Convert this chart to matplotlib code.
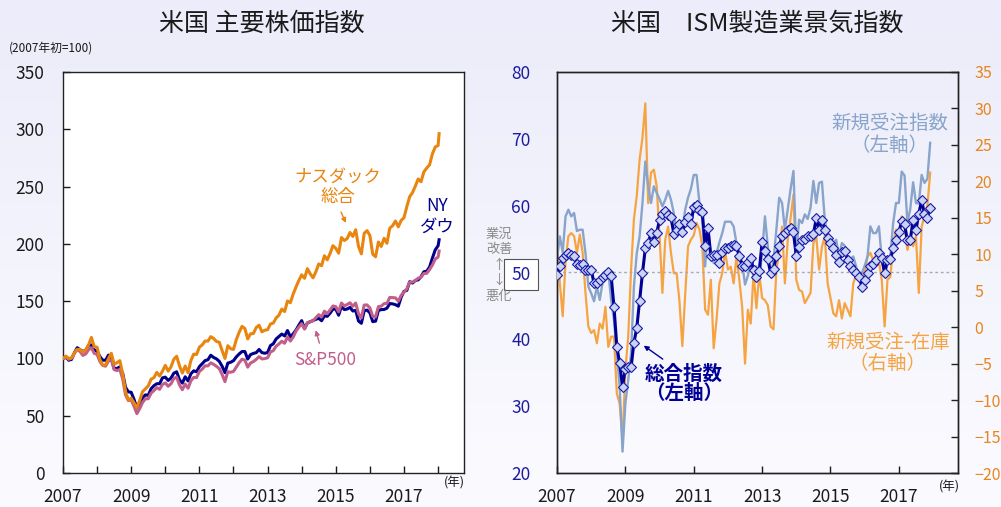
import numpy as np
import matplotlib
matplotlib.use("Agg")
import matplotlib.pyplot as plt
from matplotlib.colors import LinearSegmentedColormap

plt.rcParams['font.family'] = ['Noto Sans CJK JP', 'DejaVu Sans']

# ---------------- Data: US stock indices (monthly closes, Jan 2007 - Dec 2017, + early Jan 2018)
sp500_base = 1418.3
dow_base = 12463.2
nasdaq_base = 2415.3
sp500 = [1438.2, 1406.8, 1420.9, 1482.4, 1530.6, 1503.4, 1455.3, 1474.0, 1526.8, 1549.4, 1481.1, 1468.4,
         1378.6, 1330.6, 1322.7, 1385.6, 1400.4, 1280.0, 1267.4, 1282.8, 1166.4, 968.8, 896.2, 903.3,
         825.9, 735.1, 797.9, 872.8, 919.1, 919.3, 987.5, 1020.6, 1057.1, 1036.2, 1095.6, 1115.1,
         1073.9, 1104.5, 1169.4, 1186.7, 1089.4, 1030.7, 1101.6, 1049.3, 1141.2, 1183.3, 1180.6, 1257.6,
         1286.1, 1327.2, 1325.8, 1363.6, 1345.2, 1320.6, 1292.3, 1218.9, 1131.4, 1253.3, 1247.0, 1257.6,
         1312.4, 1365.7, 1408.5, 1397.9, 1310.3, 1362.2, 1379.3, 1406.6, 1440.7, 1412.2, 1416.2, 1426.2,
         1498.1, 1514.7, 1569.2, 1597.6, 1630.7, 1606.3, 1685.7, 1633.0, 1681.6, 1756.5, 1805.8, 1848.4,
         1782.6, 1859.5, 1872.3, 1883.9, 1923.6, 1960.2, 1930.7, 2003.4, 1972.3, 2018.1, 2067.6, 2058.9,
         1995.0, 2104.5, 2067.9, 2085.5, 2107.4, 2063.1, 2103.8, 1972.2, 1920.0, 2079.4, 2080.4, 2043.9,
         1940.2, 1932.2, 2059.7, 2065.3, 2097.0, 2098.9, 2173.6, 2171.0, 2168.3, 2126.2, 2198.8, 2238.8,
         2278.9, 2363.6, 2362.7, 2384.2, 2411.8, 2423.4, 2470.3, 2471.7, 2519.4, 2575.3, 2647.6, 2673.6,
         2748.0]
dow = [12622, 12268, 12354, 13063, 13628, 13409, 13212, 13358, 13896, 13930, 13372, 13265,
       12650, 12266, 12263, 12820, 12638, 11350, 11378, 11544, 10851, 9325, 8829, 8776,
       8001, 7063, 7609, 8168, 8500, 8447, 9172, 9496, 9712, 9713, 10345, 10428,
       10067, 10325, 10857, 11009, 10137, 9774, 10466, 10015, 10788, 11118, 11006, 11578,
       11892, 12226, 12320, 12811, 12570, 12414, 12143, 11614, 10913, 11955, 12046, 12218,
       12633, 12952, 13212, 13214, 12393, 12880, 13009, 13091, 13437, 13096, 13026, 13104,
       13861, 14054, 14579, 14840, 15116, 14910, 15500, 14810, 15130, 15546, 16086, 16577,
       15699, 16322, 16458, 16581, 16717, 16827, 16563, 17098, 17043, 17391, 17828, 17823,
       17165, 18133, 17776, 17841, 18011, 17620, 17690, 16528, 16285, 17664, 17720, 17425,
       16466, 16517, 17685, 17774, 17787, 17930, 18432, 18401, 18308, 18142, 19124, 19763,
       19864, 20812, 20663, 20941, 21009, 21350, 21891, 21948, 22405, 23377, 24272, 24719,
       25370]
nasdaq = [2464, 2416, 2422, 2525, 2605, 2603, 2546, 2596, 2701, 2859, 2661, 2652,
          2389, 2271, 2279, 2413, 2523, 2293, 2326, 2368, 2092, 1721, 1536, 1577,
          1476, 1378, 1529, 1717, 1774, 1835, 1979, 2009, 2122, 2045, 2145, 2269,
          2147, 2238, 2398, 2461, 2257, 2109, 2255, 2114, 2369, 2507, 2498, 2653,
          2700, 2782, 2781, 2874, 2835, 2774, 2756, 2579, 2415, 2684, 2620, 2605,
          2814, 2967, 3092, 3046, 2827, 2935, 2940, 3067, 3116, 2977, 3010, 3020,
          3142, 3160, 3268, 3329, 3456, 3403, 3626, 3590, 3771, 3920, 4060, 4177,
          4104, 4308, 4199, 4115, 4243, 4408, 4370, 4580, 4493, 4631, 4792, 4736,
          4635, 4964, 4901, 4941, 5070, 4987, 5128, 4777, 4620, 5054, 5109, 5007,
          4614, 4558, 4870, 4775, 4948, 4843, 5162, 5213, 5312, 5189, 5324, 5383,
          5615, 5825, 5912, 6048, 6199, 6140, 6348, 6429, 6496, 6728, 6874, 6903,
          7154]

# ---------------- Data: ISM manufacturing (monthly, Jan 2007 - Dec 2017)
pmi = [49.6, 50.9, 52.2, 52.6, 52.9, 52.6, 52.4, 51.2, 51.1, 51.2, 50.4, 50.4,
       50.4, 48.4, 48.4, 48.9, 49.4, 49.6, 50.0, 49.5, 44.9, 38.9, 36.4, 32.9,
       35.6, 35.8, 35.8, 39.5, 41.7, 45.8, 49.9, 53.6, 54.4, 55.9, 54.6, 55.9,
       57.9, 58.8, 59.2, 58.6, 58.3, 55.8, 56.3, 57.3, 56.0, 57.5, 58.3, 57.3,
       59.8, 60.1, 59.4, 59.0, 53.9, 56.6, 52.4, 52.6, 52.6, 51.4, 53.1, 53.7,
       53.7, 53.9, 54.1, 53.9, 52.4, 51.0, 50.9, 51.5, 52.2, 50.4, 49.4, 50.2,
       54.6, 53.2, 52.0, 49.9, 50.5, 52.4, 53.9, 55.4, 55.9, 56.4, 56.6, 56.0,
       52.4, 53.8, 54.9, 55.0, 55.4, 55.5, 55.7, 58.1, 56.4, 57.9, 56.4, 55.1,
       54.4, 53.6, 52.6, 51.6, 53.1, 53.2, 51.9, 50.9, 50.3, 49.9, 49.4, 47.9,
       48.9, 49.9, 50.9, 51.3, 51.9, 52.9, 52.2, 49.9, 51.9, 52.0, 53.6, 54.9,
       56.0, 57.7, 57.2, 54.8, 54.9, 57.8, 56.3, 58.8, 60.8, 58.7, 58.2, 59.7]
new_orders = [52.0, 55.4, 53.0, 58.4, 59.4, 58.4, 58.9, 56.2, 56.4, 56.4, 52.9, 47.9,
              46.9, 45.7, 47.9, 45.9, 48.5, 49.9, 50.2, 45.9, 42.9, 37.9, 32.9, 23.2,
              30.4, 33.9, 37.9, 47.9, 52.9, 55.4, 60.4, 66.6, 62.9, 60.4, 62.9, 61.9,
              61.0, 59.9, 60.9, 62.2, 60.9, 58.9, 55.4, 56.4, 56.4, 59.4, 61.2, 62.5,
              64.6, 64.6, 60.4, 57.9, 50.9, 56.9, 52.9, 51.4, 52.9, 54.5, 55.9, 57.6,
              57.6, 57.6, 56.9, 54.4, 53.2, 51.4, 48.2, 49.5, 51.4, 49.4, 50.9, 48.9,
              53.0, 58.4, 53.9, 49.4, 51.9, 56.4, 61.2, 60.4, 56.4, 59.4, 62.5, 65.2,
              52.9, 57.9, 57.4, 58.7, 58.0, 59.7, 63.7, 60.4, 63.4, 63.6, 57.9, 55.4,
              55.0, 54.4, 54.9, 52.4, 54.4, 54.0, 51.9, 52.0, 52.4, 50.9, 49.4, 49.9,
              51.0, 52.4, 56.9, 55.9, 55.9, 56.9, 52.0, 49.4, 51.4, 52.4, 57.4, 60.4,
              60.4, 65.1, 64.5, 57.5, 59.5, 63.5, 60.4, 60.3, 64.6, 63.4, 64.0, 69.4]
orders_minus_inv = [11.5, 6.0, 1.5, 9.0, 12.5, 12.9, 12.5, 10.2, 12.7, 10.2, 4.7, 0.1,
                    -0.8, -0.4, -2.2, 0.5, -0.2, 2.8, -2.7, -1.3, -1.3, -9.1, -10.5, -15.4,
                    -5.9, -1.3, 7.9, 14.8, 18.0, 23.0, 26.0, 30.7, 17.0, 21.2, 21.6, 19.3,
                    12.5, 4.7, 12.0, 13.8, 10.2, 7.4, 7.4, 3.5, -2.6, 4.5, 11.1, 12.0,
                    12.6, 14.3, 13.4, 11.1, 2.4, 1.7, 6.5, -2.9, 1.0, 6.0, 7.4, 10.4,
                    7.9, 8.3, 6.0, 9.7, 6.5, 2.8, -5.0, 2.4, 0.5, 7.4, 2.6, 7.4,
                    4.0, 3.7, 3.0, 0.1, -0.3, 7.9, 10.2, 13.8, 6.0, 12.0, 15.0, 18.2,
                    6.5, 5.1, 4.9, 3.3, 4.0, 4.7, 11.5, 12.5, 7.9, 11.0, 12.5, 6.0,
                    4.0, 1.9, 1.5, 3.7, 1.2, 3.3, 2.4, 1.5, 6.0, 7.2, 7.2, 6.9,
                    7.4, 9.7, 10.2, 9.2, 9.9, 9.0, 6.5, 0.1, 6.5, 6.9, 11.1, 13.4,
                    11.5, 15.2, 13.8, 10.6, 12.0, 11.1, 12.5, 4.7, 13.8, 15.2, 16.6, 21.2]

stock_years = [2007.0] + [2007 + (m + 1) / 12 for m in range(132)] + [2018.03]
ism_years = [2007 + m / 12 for m in range(132)]

# ---------------- Figure
W, H = 1001, 507
fig = plt.figure(figsize=(W / 100, H / 100), dpi=100)

# background gradient
bg = fig.add_axes([0, 0, 1, 1], zorder=-10)
cmap = LinearSegmentedColormap.from_list('bg', ['#fbfbff', '#ececfa'])
bg.imshow(np.linspace(0, 1, 256).reshape(-1, 1), aspect='auto', cmap=cmap,
          extent=[0, 1, 0, 1], origin='lower')
bg.axis('off')

def fx(x):
    return x / W

def fy(y):
    return 1 - y / H

TXT = '#1a1a1a'
NAS_C = '#e8850f'
DOW_C = '#00008c'
SP_C = '#c25e8a'
PMI_C = '#000096'
NO_C = '#88a4ca'
OMI_C = '#f6a441'
LBLUE = '#1c1ca0'
LORNG = '#e8851c'

# ---------------- Left chart
ax1 = fig.add_axes([fx(63), fy(473), fx(401), 401 / H])
ax1.set_facecolor('white')

def norm(vals, base):
    return [100.0] + [v / base * 100 for v in vals]

ax1.plot(stock_years, norm(dow, dow_base), color=DOW_C, lw=2.2, zorder=2)
ax1.plot(stock_years, norm(sp500, sp500_base), color=SP_C, lw=2.2, zorder=3)
ax1.plot(stock_years, norm(nasdaq, nasdaq_base), color=NAS_C, lw=2.2, zorder=4)

ax1.set_xlim(2007, 2018.76)
ax1.set_ylim(0, 350)
ax1.set_xticks(range(2007, 2019))
ax1.set_xticklabels([str(y) if y % 2 == 1 and y < 2018 else '' for y in range(2007, 2019)])
ax1.set_yticks(range(0, 351, 50))
ax1.tick_params(axis='both', direction='in', length=5, width=1, labelsize=12.5, colors=TXT)
ax1.tick_params(axis='y', pad=13.5)
ax1.tick_params(axis='x', pad=11)
for s in ax1.spines.values():
    s.set_color('#222222')
    s.set_linewidth(1.0)

ax1.text(2015.06, 250, 'ナスダック\n総合', color=NAS_C, fontsize=12.5, ha='center', va='center',
         linespacing=1.15)
ax1.annotate('', xy=(2015.33, 216), xytext=(2015.12, 230),
             arrowprops=dict(arrowstyle='-|>', color=NAS_C, lw=1.0, mutation_scale=7))
ax1.text(2017.97, 224, 'NY\nダウ', color=DOW_C, fontsize=12.5, ha='center', va='center',
         linespacing=1.15)
ax1.text(2014.68, 98.5, 'S&P500', color=SP_C, fontsize=12.5, ha='center', va='center')
ax1.annotate('', xy=(2014.39, 127), xytext=(2014.54, 111),
             arrowprops=dict(arrowstyle='-|>', color=SP_C, lw=1.0, mutation_scale=7))

fig.text(fx(262), fy(24), '米国 主要株価指数', fontsize=18, ha='center', va='center', color=TXT)
fig.text(fx(9), fy(48), '(2007年初=100)', fontsize=8.5, ha='left', va='center', color=TXT)
fig.text(fx(454), fy(483), '(年)', fontsize=9, ha='center', va='center', color=TXT)

# ---------------- Right chart
ax2 = fig.add_axes([fx(557), fy(473), fx(401), 401 / H])
ax2r = ax2.twinx()
ax2.set_zorder(ax2r.get_zorder() + 1)
ax2.patch.set_visible(False)
ax2r.set_facecolor('white')

ax2r.plot(ism_years, orders_minus_inv, color=OMI_C, lw=1.6)
ax2.axhline(50, color='#aaaaaa', lw=1.0, ls=(0, (2, 2)), zorder=1)
ax2.plot(ism_years, new_orders, color=NO_C, lw=1.7, zorder=2)
ax2.plot(ism_years, pmi, color=PMI_C, lw=2.2, marker='D', markersize=4.6,
         markerfacecolor='#c8d4f2', markeredgecolor='#1a1aa8', markeredgewidth=0.8, zorder=3)

ax2.set_xlim(2007, 2018.73)
ax2.set_ylim(20, 80)
ax2r.set_ylim(-20, 35)
ax2.set_xticks(range(2007, 2018, 2))
ax2.set_yticks(range(20, 81, 10))
ax2r.set_yticks(range(-20, 36, 5))
ax2.tick_params(axis='x', direction='in', length=5, width=1, labelsize=12.5, colors=TXT, pad=11)
ax2.tick_params(axis='y', length=0, labelsize=12.5, labelcolor=LBLUE, pad=19)
ax2r.tick_params(axis='y', direction='in', length=5, width=1, labelsize=11.5, labelcolor=LORNG,
                 pad=12, color='#222222')
for a in (ax2, ax2r):
    for s in a.spines.values():
        s.set_color('#222222')
        s.set_linewidth(1.0)

for lbl in ax2.get_yticklabels():
    if lbl.get_text() == '50':
        lbl.set_bbox(dict(boxstyle='square,pad=0.4', facecolor='white', edgecolor='#555555', lw=0.8))

ax2.text(2016.74, 70.6, '新規受注指数\n（左軸）', color=NO_C, fontsize=14, ha='center', va='center',
         linespacing=1.05)
ax2.text(2016.68, 37.95, '新規受注-在庫\n（右軸）', color=OMI_C, fontsize=14, ha='center', va='center',
         linespacing=1.05)
ax2.text(2010.71, 33.3, '総合指数\n（左軸）', color=PMI_C, fontsize=14, fontweight='bold',
         ha='center', va='center', linespacing=1.0)
ax2.annotate('', xy=(2009.47, 39.3), xytext=(2010.16, 36.8),
             arrowprops=dict(arrowstyle='-|>', color=PMI_C, lw=1.0, mutation_scale=7))

fig.text(fx(499), fy(265), '業況\n改善\n↑\n↓\n悪化', fontsize=9.5, ha='center', va='center',
         color='#8a8a8a', linespacing=1.25)

fig.text(fx(757), fy(24), '米国　ISM製造業景気指数', fontsize=18, ha='center', va='center', color=TXT)
fig.text(fx(949), fy(487), '(年)', fontsize=9, ha='center', va='center', color=TXT)

fig.savefig('out.png', dpi=100)
